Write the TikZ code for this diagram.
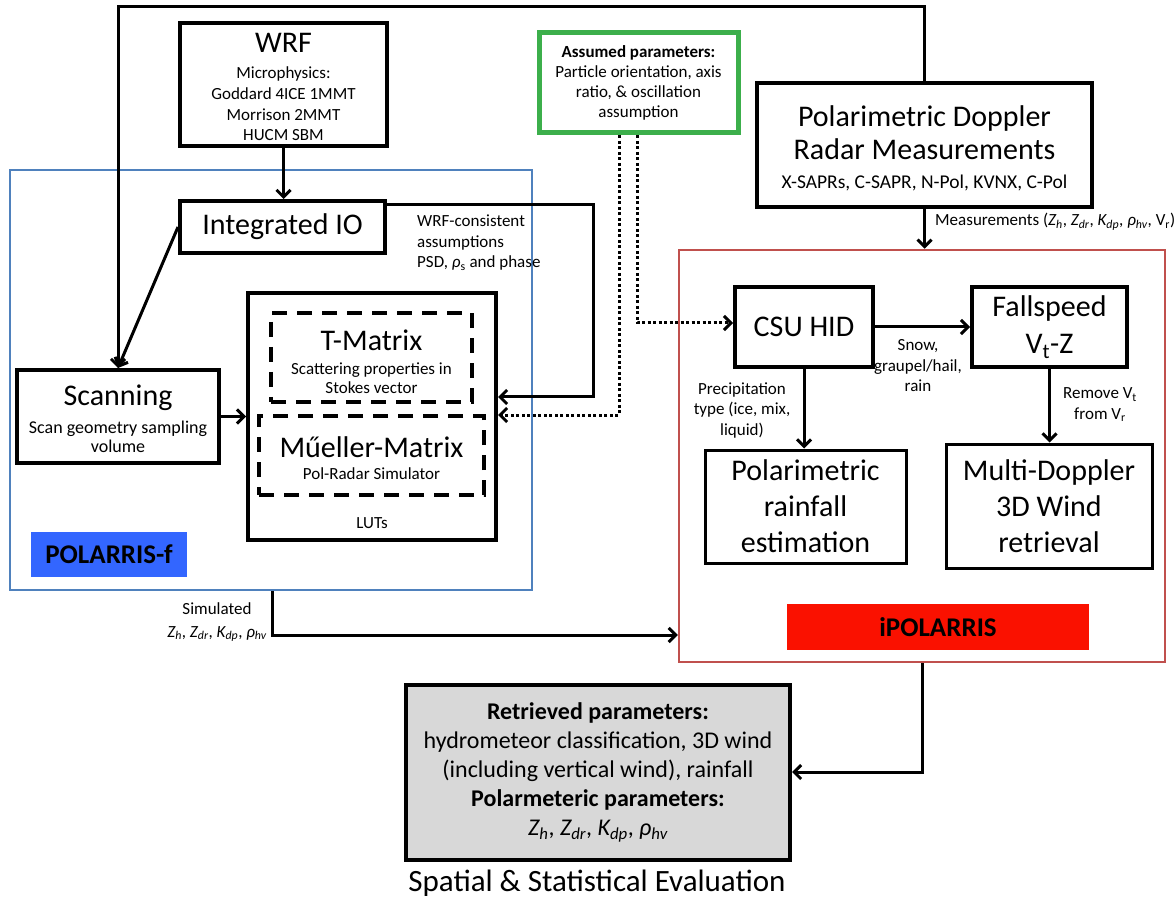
\documentclass[tikz,border=0pt]{standalone}
\usepackage{fontspec}
\setmainfont{Carlito}
\usetikzlibrary{arrows.meta,fit}
\definecolor{polblue}{RGB}{79,129,189}
\definecolor{labblue}{RGB}{51,102,255}
\definecolor{polred}{RGB}{192,80,77}
\definecolor{labred}{RGB}{250,17,0}
\definecolor{assgreen}{RGB}{60,175,75}
\definecolor{evalgray}{RGB}{216,216,216}
\newcommand{\fsz}[2]{\fontsize{#1}{#2}\selectfont}
\newcommand{\Zh}{\textit{Z\textsubscript{h}}}
\newcommand{\Zdr}{\textit{Z\textsubscript{dr}}}
\newcommand{\Kdp}{\textit{K\textsubscript{dp}}}
\newcommand{\rhv}{\textit{ρ\textsubscript{hv}}}
\begin{document}
\begin{tikzpicture}[x=1pt,y=-1pt,
  box/.style={draw=black, line width=4pt, fill=white, inner sep=0pt, align=center},
  thinbox/.style={draw=black, line width=3pt, fill=white, inner sep=0pt, align=center},
  dbox/.style={draw=black, line width=4pt, dash pattern=on 15pt off 10pt, inner sep=0pt},
  cont/.style={line width=2.5pt, inner sep=0pt},
  txt/.style={inner sep=0pt, align=center},
  arr/.style={line width=3pt, -{Straight Barb[length=7pt,width=14pt]}},
  dotarr/.style={line width=3pt, dash pattern=on 3pt off 2.5pt, -{Straight Barb[length=7pt,width=14pt]}}
]
\useasboundingbox (0,0) rectangle (1176,901);
\fill[white] (0,0) rectangle (1176,901);

% containers
\node[cont, draw=polblue, fit={(10,170) (532,590)}] (polf) {};
\node[cont, draw=polred, fit={(679,250) (1165,662)}] (ipol) {};
\node[fill=labblue, inner sep=0pt, minimum width=156pt, minimum height=45pt, font=\fsz{27}{32}\bfseries] (polflab) at (109,554.5) {POLARRIS-f};
\node[fill=labred, inner sep=0pt, minimum width=302pt, minimum height=46pt, font=\fsz{27}{32}\bfseries] (ipollab) at (938,627) {iPOLARRIS};

% WRF
\node[box, fit={(180,23) (387,146)}] (wrf) {};
\node[txt, font=\fsz{30}{36}] (wrft) at (283.5,43) {WRF};
\node[txt, font=\fsz{17}{20.7}] (wrfs) at (283.5,104) {Microphysics:\\Goddard 4ICE 1MMT\\Morrison 2MMT\\HUCM SBM};

% Integrated IO
\node[box, minimum width=205pt, minimum height=52pt, font=\fsz{30}{36}] (io) at (282.5,227) {Integrated IO};
\node[txt, align=left, anchor=west, font=\fsz{17}{20.5}] (wrfc) at (417,243) {WRF-consistent\\assumptions\\PSD, \textit{ρ}\textsubscript{s} and phase};

% Scanning
\node[box, fit={(17,370) (219,463)}] (scan) {};
\node[txt, font=\fsz{30}{36}] (scant) at (118,398) {Scanning};
\node[txt, font=\fsz{18}{19.5}] (scans) at (118,437) {Scan geometry sampling\\volume};

% LUT block
\node[box, fit={(248,293) (496,540)}] (lut) {};
\node[dbox, fit={(271,313) (472,402)}] (tm) {};
\node[txt, font=\fsz{30}{36}] (tmt) at (371.5,340) {T-Matrix};
\node[txt, font=\fsz{17}{19.5}] (tms) at (371.5,378) {Scattering properties in\\Stokes vector};
\node[dbox, fit={(259,416) (484,495)}] (mm) {};
\node[txt, font=\fsz{30}{36}] (mmt) at (371.5,447) {Műeller-Matrix};
\node[txt, font=\fsz{17}{20}] (mms) at (371.5,474) {Pol-Radar Simulator};
\node[txt, font=\fsz{17}{20}] (luts) at (372,523) {LUTs};

% Assumed parameters
\node[draw=assgreen, line width=5pt, fill=white, inner sep=0pt, align=center, minimum width=199pt, minimum height=100pt, font=\fsz{17}{20}] (green) at (638.5,83) {\textbf{Assumed parameters:}\\Particle orientation, axis\\ratio, \& oscillation\\assumption};

% Polarimetric Doppler radar
\node[box, fit={(757,83) (1092,207)}] (pdr) {};
\node[txt, font=\fsz{30}{33}] (pdrt) at (924.5,133) {Polarimetric Doppler\\Radar Measurements};
\node[txt, font=\fsz{19.5}{22}] (pdrs) at (924.5,183) {X-SAPRs, C-SAPR, N-Pol, KVNX, C-Pol};
\node[txt, anchor=west, font=\fsz{17}{20}] (meas) at (935,222) {Measurements (\Zh, \Zdr, \Kdp, \rhv, V\textsubscript{r})};

% iPOLARRIS content
\node[box, minimum width=138pt, minimum height=80pt, font=\fsz{30}{36}] (csu) at (804,327) {CSU HID};
\node[box, minimum width=155pt, minimum height=80pt, font=\fsz{30}{37}] (fall) at (1049.5,327) {Fallspeed\\V\textsubscript{t}-Z};
\node[thinbox, minimum width=201pt, minimum height=113pt, font=\fsz{30}{36}] (rain) at (805.5,506.5) {Polarimetric\\rainfall\\estimation};
\node[thinbox, minimum width=206pt, minimum height=124pt, font=\fsz{30}{36}] (md) at (1049,506) {Multi-Doppler\\3D Wind\\retrieval};
\node[txt, font=\fsz{17}{20.5}] (snow) at (918,366) {Snow,\\graupel/hail,\\rain};
\node[txt, font=\fsz{17}{20.5}] (prec) at (742,410) {Precipitation\\type (ice, mix,\\liquid)};
\node[txt, font=\fsz{17}{20.5}] (remv) at (1100,405) {Remove V\textsubscript{t}\\from V\textsubscript{r}};

% simulated label
\node[txt, font=\fsz{17}{23}] (simt) at (217,622) {Simulated\\\Zh, \Zdr, \Kdp, \rhv};

% evaluation
\node[draw=black, line width=4pt, fill=evalgray, inner sep=0pt, align=center, minimum width=384pt, minimum height=175pt, font=\fsz{24}{29}] (gray) at (598,772.5) {\textbf{Retrieved parameters:}\\hydrometeor classification, 3D wind\\(including vertical wind), rainfall\\\textbf{Polarmeteric parameters:}\\\Zh, \Zdr, \Kdp, \rhv};
\node[txt, font=\fsz{31}{36}] (evalt) at (597,883) {Spatial \& Statistical Evaluation};

% connectors
\coordinate (topL) at (118,7);
\draw[arr] (pdr.north) |- (topL) -- (scan.north);
\draw[arr] (wrf.south) -- (wrf.south |- io.north);
\draw[arr] (io.west) -- (scan.north);
\coordinate (ioturn) at (593,397);
\draw[arr] ([yshift=-6pt]io.north east) -| (ioturn) -- (ioturn -| lut.east);
\coordinate (dotA) at (619,415);
\coordinate (dotB) at (637,323);
\draw[dotarr] (dotA |- green.south) -- (dotA) -- (dotA -| lut.east);
\draw[dotarr] (dotB |- green.south) -- (dotB) -- (dotB -| csu.west);
\draw[arr] (scan.east) -- (scan.east -| lut.west);
\draw[arr] (pdr.south) -- (pdr.south |- ipol.north);
\draw[arr] (csu.east) -- (fall.west);
\draw[arr] (csu.south) -- (csu.south |- rain.north);
\draw[arr] (fall.south) -- (fall.south |- md.north);
\coordinate (simc) at (272,635);
\draw[arr] (simc |- polf.south) -- (simc) -- (simc -| ipol.west);
\coordinate (evc) at (922,772);
\draw[arr] (evc |- ipol.south) -- (evc) -- (evc -| gray.east);
\end{tikzpicture}
\end{document}
